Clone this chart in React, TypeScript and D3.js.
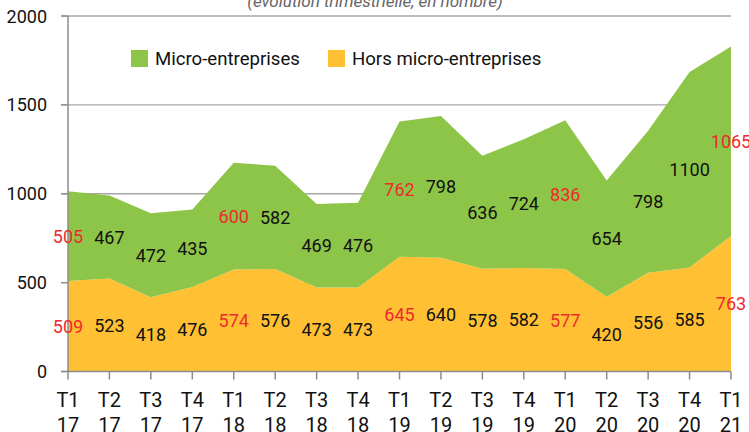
import React from 'react';
import * as d3 from 'd3';

const quarters = ['T1', 'T2', 'T3', 'T4', 'T1', 'T2', 'T3', 'T4', 'T1', 'T2', 'T3', 'T4', 'T1', 'T2', 'T3', 'T4', 'T1'];
const years = ['17', '17', '17', '17', '18', '18', '18', '18', '19', '19', '19', '19', '20', '20', '20', '20', '21'];
const horsMicro = [509, 523, 418, 476, 574, 576, 473, 473, 645, 640, 578, 582, 577, 420, 556, 585, 763];
const micro = [505, 467, 472, 435, 600, 582, 469, 476, 762, 798, 636, 724, 836, 654, 798, 1100, 1065];
const yTicks = [0, 500, 1000, 1500, 2000];

const W = 749;
const H = 432;
const FONT = 'Roboto, "Noto Sans", sans-serif';
const GREEN = '#8dc549';
const ORANGE = '#ffc133';
const RED = '#ee2a2f';

export default function App() {
  const x = d3.scaleLinear().domain([0, quarters.length - 1]).range([68, 731]);
  const y = d3.scaleLinear().domain([0, 2000]).range([371.5, 16]);

  const rows = quarters.map((q, i) => ({ i, hors: horsMicro[i], micro: micro[i] }));
  const series = d3.stack<any>().keys(['hors', 'micro'])(rows);

  const area = d3.area<any>()
    .x((d) => x(d.data.i))
    .y0((d) => y(d[0]))
    .y1((d) => y(d[1]));

  const colors = [ORANGE, GREEN];
  // red labels on first quarter of each year
  const labelColor = (i: number) => (quarters[i] === 'T1' ? RED : '#111');

  return (
    <svg width={W} height={H} style={{ position: 'absolute', left: 0, top: 0 }} fontFamily={FONT}>
      <text x={375} y={7} textAnchor="middle" fontSize={17} fontStyle="italic" fill="#666">
        (évolution trimestrielle, en nombre)
      </text>

      {/* gridlines */}
      {yTicks.filter((t) => t > 0).map((t) => (
        <line key={t} x1={61} x2={731} y1={y(t)} y2={y(t)} stroke="#a6a6a6" strokeWidth={1.3} />
      ))}

      {series.map((s, k) => (
        <path key={s.key} d={area(s) || ''} fill={colors[k]} />
      ))}

      {/* axes */}
      <line x1={68} x2={68} y1={y(2000)} y2={y(0)} stroke="#8c8c8c" strokeWidth={1.5} />
      <line x1={61} x2={731} y1={y(0)} y2={y(0)} stroke="#8c8c8c" strokeWidth={1.5} />
      {yTicks.map((t) => (
        <g key={t}>
          <line x1={61} x2={68} y1={y(t)} y2={y(t)} stroke="#8c8c8c" strokeWidth={1.3} />
          <text x={47} y={y(t) + 6.5} textAnchor="end" fontSize={18} fill="#111">{t}</text>
        </g>
      ))}
      {quarters.map((q, i) => (
        <g key={i}>
          <line x1={x(i)} x2={x(i)} y1={y(0)} y2={y(0) + 8} stroke="#8c8c8c" strokeWidth={1.5} />
          <text x={x(i)} y={407} textAnchor="middle" fontSize={20} fill="#111">{q}</text>
          <text x={x(i)} y={432} textAnchor="middle" fontSize={20} fill="#111">{years[i]}</text>
        </g>
      ))}

      {/* value labels, centred in each band */}
      {series.map((s) =>
        s.map((d: any, i: number) => (
          <text
            key={s.key + i}
            x={x(i)}
            y={(y(d[0]) + y(d[1])) / 2 + 6.5}
            textAnchor="middle"
            fontSize={18}
            fill={labelColor(i)}
          >
            {d.data[s.key]}
          </text>
        ))
      )}

      {/* legend */}
      <rect x={131} y={50} width={17} height={17} fill={GREEN} />
      <text x={155} y={65} fontSize={18.6} fill="#111">Micro-entreprises</text>
      <rect x={328} y={50} width={17} height={17} fill={ORANGE} />
      <text x={352} y={65} fontSize={18.6} fill="#111">Hors micro-entreprises</text>
    </svg>
  );
}
